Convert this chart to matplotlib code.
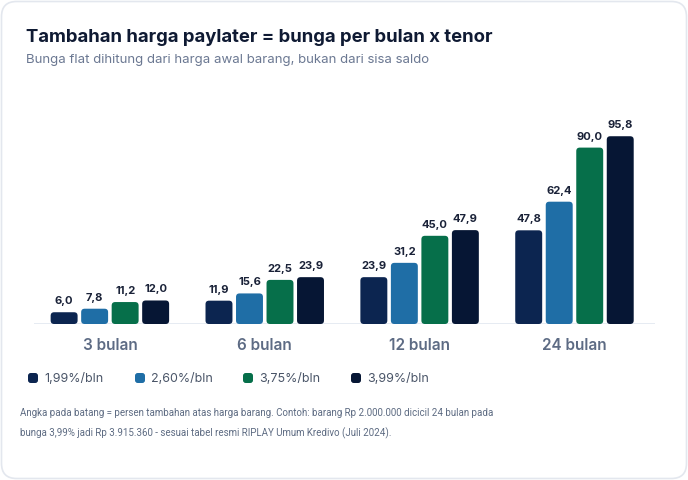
import matplotlib.pyplot as plt
import numpy as np
from matplotlib.patches import FancyBboxPatch

plt.rcParams['font.family'] = ['Inter', 'DejaVu Sans']

tenor = ["3 bulan", "6 bulan", "12 bulan", "24 bulan"]
rates = ["1,99%/bln", "2,60%/bln", "3,75%/bln", "3,99%/bln"]
v_199 = [6.0, 11.9, 23.9, 47.8]
v_260 = [7.8, 15.6, 31.2, 62.4]
v_375 = [11.2, 22.5, 45.0, 90.0]
v_399 = [12.0, 23.9, 47.9, 95.8]
series = [v_199, v_260, v_375, v_399]
colors = ["#0c2550", "#1f6ea6", "#066f4a", "#061634"]

W, H = 688, 480
fig = plt.figure(figsize=(W / 100, H / 100), dpi=100)
fig.patch.set_facecolor("white")

# card (border only, behind everything)
card = FancyBboxPatch((1.5 / W, 1.5 / H), (W - 3) / W, (H - 3) / H,
                      boxstyle="round,pad=0,rounding_size=0.022",
                      mutation_aspect=W / H, transform=fig.transFigure,
                      facecolor="none", edgecolor="#e3e7ee", linewidth=1.2,
                      zorder=-1)
fig.patches.append(card)

# axes: x 34..655 px, baseline at 324 px, 1.96 px per unit
ax = fig.add_axes([34 / W, (H - 324) / H, (655 - 34) / W, 196 / H])
ax.set_xlim(-0.49, 3.52)
ax.set_ylim(0, 100)
ax.axis("off")
ax.axhline(0, color="#e2e8f0", linewidth=1.2, zorder=1)

x = np.arange(len(tenor))
bw = 0.174
step = 0.197
x_per_px = (3.52 + 0.49) / (655 - 34)
y_per_px = 100 / 196
r = 3.5 * x_per_px
for i, vals in enumerate(series):
    off = (i - 1.5) * step
    bars = ax.bar(x + off, vals, width=bw, color=colors[i], alpha=0)
    for b, v in zip(bars, vals):
        p = FancyBboxPatch((b.get_x(), 0), b.get_width(), v,
                           boxstyle=f"round,pad=0,rounding_size={r}",
                           mutation_aspect=y_per_px / x_per_px,
                           facecolor=colors[i], edgecolor="none", zorder=2)
        ax.add_patch(p)
        ax.text(b.get_x() + b.get_width() / 2, v + 6 * y_per_px,
                f"{v:.1f}".replace(".", ","), ha="center", va="bottom",
                fontsize=8, fontweight="bold", color="#1a2238")

for xi, t in zip(x, tenor):
    ax.text(xi, -21 * y_per_px, t, ha="center", va="center",
            fontsize=11, fontweight="semibold", color="#5d6b84")

# title and subtitle
fig.text(26 / W, 1 - 38 / H, "Tambahan harga paylater = bunga per bulan x tenor",
         fontsize=13.3, fontweight="bold", color="#0f1a33", va="center")
fig.text(26 / W, 1 - 60 / H, "Bunga flat dihitung dari harga awal barang, bukan dari sisa saldo",
         fontsize=9.5, color="#6b7892", va="center")

# legend
leg_x = [28, 135, 243, 351]
for lx, lab, c in zip(leg_x, rates, colors):
    sq = FancyBboxPatch((lx / W, 1 - 383 / H), 10 / W, 10 / H,
                        boxstyle="round,pad=0,rounding_size=0.004",
                        mutation_aspect=W / H, transform=fig.transFigure,
                        facecolor=c, edgecolor="none")
    fig.patches.append(sq)
    fig.text((lx + 16) / W, 1 - 379 / H, lab, fontsize=9,
             color="#4a5568", va="center")

# footnote
foot = ["Angka pada batang = persen tambahan atas harga barang. Contoh: barang Rp 2.000.000 dicicil 24 bulan pada",
        "bunga 3,99% jadi Rp 3.915.360 - sesuai tabel resmi RIPLAY Umum Kredivo (Juli 2024)."]
for k, line in enumerate(foot):
    fig.text(20 / W, 1 - (413 + 20 * k) / H, line, fontsize=7.0,
             family=['Roboto', 'DejaVu Sans'],
             color="#5d6b82", va="center")

fig.savefig("out.png", dpi=100)
